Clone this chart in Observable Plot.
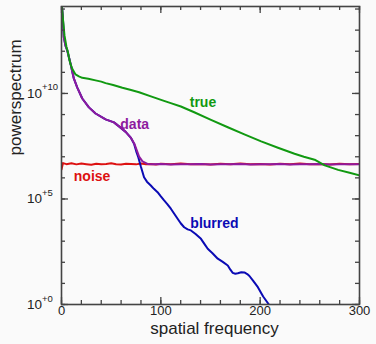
<!DOCTYPE html>
<html>
<head>
<meta charset="utf-8">
<script src="https://cdn.jsdelivr.net/npm/d3@7"></script>
<script src="https://cdn.jsdelivr.net/npm/@observablehq/plot@0.6"></script>
<style>
  html, body { margin: 0; padding: 0; background: #fafafa; }
  #chart { width: 376px; height: 344px; }
</style>
</head>
<body>
<div id="chart"></div>
<script>
// [spatial frequency, log10(power)]
const trueSpec = [[0,14.4],[1.5,13.5],[3,12.75],[5,12.2],[6.5,11.95],[7.4,11.72],[9,11.4],[10.8,11.17],[14.1,10.9],[17.5,10.81],[20.9,10.74],[27,10.7],[34.3,10.62],[40,10.56],[44.4,10.49],[52,10.4],[61.3,10.27],[70,10.16],[78.1,10.06],[90,9.86],[101.7,9.67],[110,9.54],[120.2,9.38],[133.6,9.11],[150.5,8.75],[167.4,8.40],[184.1,8.06],[201,7.73],[217.9,7.43],[234.6,7.14],[244,7.0],[254.8,6.86],[265,6.59],[278.5,6.38],[290,6.24],[301,6.11]];
const dataSpec = [[0,14.4],[1.5,13.46],[2.3,12.67],[4,12.27],[5.8,12.04],[9.1,11.41],[12.4,10.71],[15.9,10.28],[20.9,9.76],[27.6,9.34],[34.3,9.05],[44.4,8.77],[52.8,8.63],[57.9,8.44],[64.6,8.18],[69.7,7.91],[73.2,7.63],[75.8,7.30],[78.1,7.01],[81.5,6.78],[86.6,6.66],[92,6.64],[100,6.66],[110,6.63],[120,6.65],[130,6.64],[140,6.66],[150,6.63],[160,6.65],[170,6.64],[180,6.66],[190,6.63],[200,6.65],[210,6.64],[220,6.66],[230,6.63],[240,6.65],[250,6.64],[260,6.66],[270,6.63],[280,6.65],[290,6.64],[300,6.65]];
const blurredSpec = [[0,14.4],[1.5,13.46],[2.3,12.67],[4,12.27],[5.8,12.04],[9.1,11.41],[12.4,10.71],[15.9,10.28],[20.9,9.76],[27.6,9.34],[34.3,9.05],[44.4,8.77],[52.8,8.63],[57.9,8.44],[64.6,8.18],[69.7,7.91],[73.2,7.6],[75.5,7.22],[77.3,6.98],[79.8,6.55],[83.1,6.03],[86,5.82],[89.9,5.64],[93,5.48],[96.7,5.32],[100,5.12],[103.3,4.93],[106.5,4.76],[110.1,4.54],[113.5,4.3],[116.9,4.06],[120,3.85],[123.5,3.66],[127,3.56],[130.3,3.51],[135,3.34],[140.4,3.11],[144,2.86],[147.2,2.64],[152,2.43],[157.3,2.17],[162,2.03],[167.4,1.85],[170,1.65],[172.4,1.50],[175,1.46],[177.5,1.48],[181,1.53],[184.1,1.52],[187,1.44],[189.2,1.35],[193,1.12],[197.7,0.82],[203,0.38],[208.8,0.0],[212,-0.25]];
const noiseSpec = [[0,6.40],[1.5,6.70],[5,6.65],[10,6.69],[15,6.64],[20,6.68],[25,6.65],[30,6.62],[35,6.67],[40,6.64],[45,6.66],[50,6.69],[55,6.65],[60,6.63],[65,6.67],[70,6.66],[75,6.64],[80,6.68],[85,6.65],[90,6.66],[95,6.63],[100,6.67],[110,6.65],[120,6.68],[130,6.64],[140,6.66],[150,6.63],[160,6.67],[170,6.65],[180,6.68],[190,6.64],[200,6.66],[210,6.63],[220,6.67],[230,6.65],[240,6.68],[250,6.64],[260,6.66],[270,6.63],[280,6.67],[290,6.65],[300,6.66]];

const xTickLabels = [0, 100, 200, 300];
const xMinorTicks = [0,20,40,60,80,100,120,140,160,180,200,220,240,260,280,300];
const yTickValues = [1e0, 1e5, 1e10];
const yTickExponents = ["+0", "+5", "+10"];
const yDecades = [1e0,1e1,1e2,1e3,1e4,1e5,1e6,1e7,1e8,1e9,1e10,1e11,1e12,1e13,1e14];

const curveLabels = [
  {text: "true", f: 142.4, lg: 9.55, color: "#119911"},
  {text: "data", f: 73.7, lg: 8.54, color: "#8e1a9e"},
  {text: "noise", f: 30.8, lg: 6.06, color: "#dd1111"},
  {text: "blurred", f: 154, lg: 3.82, color: "#0a0ab4"}
];

const rows = arr => arr.map(([f, lg]) => ({f, p: 10 ** lg}));

const W = 376, H = 344;
const mL = 61, mR = 17, mT = 6, mB = 40;
const pw = W - mL - mR, ph = H - mT - mB;
const axisColor = "#444";
const majorLen = 7, minorLen = 4;
const font = "'Liberation Sans', Arial, Helvetica, sans-serif";

const lineOpts = {x: "f", y: "p", strokeWidth: 2, clip: true, strokeLinejoin: "round"};

const chart = Plot.plot({
  width: W, height: H,
  marginLeft: mL, marginRight: mR, marginTop: mT, marginBottom: mB,
  style: {background: "#fafafa", fontFamily: font, color: "#222", overflow: "visible"},
  x: {domain: [0, 300], axis: null},
  y: {type: "log", domain: [1, 10 ** 14.12], axis: null},
  marks: [
    Plot.line(rows(noiseSpec), {...lineOpts, stroke: "#dd1111"}),
    Plot.line(rows(blurredSpec), {...lineOpts, stroke: "#0a0ab4"}),
    Plot.line(rows(dataSpec), {...lineOpts, stroke: "#8e1a9e"}),
    Plot.line(rows(trueSpec), {...lineOpts, stroke: "#119911"}),
    Plot.frame({stroke: axisColor, strokeWidth: 1.6}),
    // y ticks, inside, left and right
    Plot.ruleY(yDecades, {y: d => d, stroke: axisColor, strokeWidth: 1.3, insetRight: pw - minorLen}),
    Plot.ruleY(yDecades, {y: d => d, stroke: axisColor, strokeWidth: 1.3, insetLeft: pw - minorLen}),
    Plot.ruleY(yTickValues, {y: d => d, stroke: axisColor, strokeWidth: 1.3, insetRight: pw - majorLen}),
    Plot.ruleY(yTickValues, {y: d => d, stroke: axisColor, strokeWidth: 1.3, insetLeft: pw - majorLen}),
    // x ticks, inside, bottom and top
    Plot.ruleX(xMinorTicks, {x: d => d, stroke: axisColor, strokeWidth: 1.3, insetTop: ph - minorLen}),
    Plot.ruleX(xMinorTicks, {x: d => d, stroke: axisColor, strokeWidth: 1.3, insetBottom: ph - minorLen}),
    Plot.ruleX(xTickLabels, {x: d => d, stroke: axisColor, strokeWidth: 1.3, insetTop: ph - majorLen}),
    Plot.ruleX(xTickLabels, {x: d => d, stroke: axisColor, strokeWidth: 1.3, insetBottom: ph - majorLen}),
    // x tick labels
    Plot.text(xTickLabels, {x: d => d, frameAnchor: "bottom", dy: 10.5, text: d => String(d), fontSize: 13, fill: "#222"}),
    // y tick labels 10^{+n}
    Plot.text(yTickValues, {y: d => d, frameAnchor: "left", dx: -34.5, text: () => "10", textAnchor: "start", fontSize: 13.5, fill: "#222"}),
    Plot.text(yTickValues, {y: d => d, frameAnchor: "left", dx: -19.5, dy: -6, text: (d, i) => yTickExponents[i], textAnchor: "start", fontSize: 9.5, fill: "#222"}),
    // axis titles
    Plot.text(["spatial frequency"], {frameAnchor: "bottom", dx: 4, dy: 29.6, text: d => d, fontSize: 17, fill: "#222"}),
    Plot.text(["powerspectrum"], {frameAnchor: "left", dx: -46, rotate: -90, text: d => d, fontSize: 17, fill: "#222"}),
    // curve labels
    Plot.text(curveLabels, {x: "f", y: d => 10 ** d.lg, text: "text", fill: d => d.color, fontSize: 14, fontWeight: "bold"})
  ]
});
document.getElementById("chart").appendChild(chart);
</script>
</body>
</html>
